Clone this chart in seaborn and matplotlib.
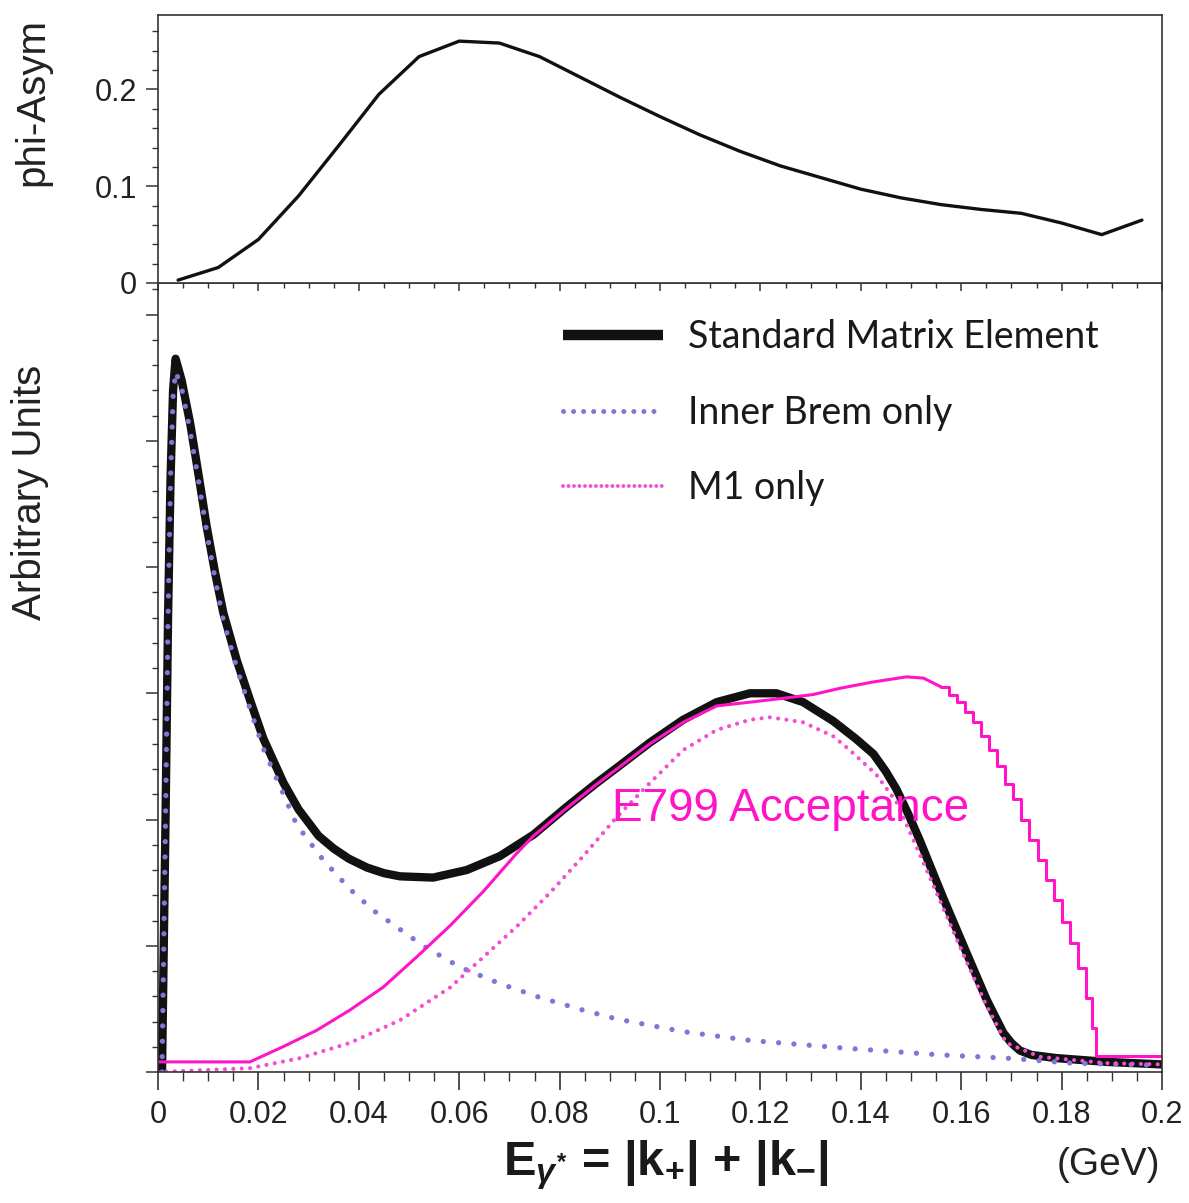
import numpy as np
import pandas as pd
import matplotlib
matplotlib.use("Agg")
import matplotlib.pyplot as plt
from matplotlib.lines import Line2D
from matplotlib.ticker import MultipleLocator
import seaborn as sns

# ---------------- data ----------------
# top panel: phi asymmetry
asym_x = [0.004, 0.012, 0.020, 0.028, 0.036, 0.044, 0.052, 0.060, 0.068, 0.076,
          0.084, 0.092, 0.100, 0.108, 0.116, 0.124, 0.132, 0.140, 0.148, 0.156,
          0.164, 0.172, 0.180, 0.188, 0.196]
asym_y = [0.003, 0.016, 0.045, 0.090, 0.142, 0.195, 0.234, 0.250, 0.248, 0.234,
          0.213, 0.192, 0.172, 0.153, 0.136, 0.121, 0.109, 0.097, 0.088, 0.081,
          0.076, 0.072, 0.062, 0.050, 0.065]

# bottom panel: standard matrix element
std_x = [0.0008, 0.0015, 0.0020, 0.0025, 0.0030, 0.0035, 0.0047, 0.0064, 0.0080, 0.0097,
         0.0114, 0.0130, 0.0157, 0.0183, 0.0210, 0.0250, 0.0280, 0.0320, 0.0350, 0.0380,
         0.0416, 0.0450, 0.0482, 0.0548, 0.0615, 0.0681, 0.0748, 0.0814, 0.0874, 0.0914,
         0.0980, 0.1046, 0.1113, 0.1179, 0.1232, 0.1285, 0.1345, 0.1390, 0.1425, 0.1450,
         0.1471, 0.1495, 0.1518, 0.1564, 0.1611, 0.1651, 0.1684, 0.1700, 0.1717, 0.1740,
         0.1790, 0.1890, 0.2000]
std_y = [0.0, 2.0, 3.6, 4.7, 5.4, 5.65, 5.48, 5.14, 4.75, 4.32,
         3.95, 3.64, 3.26, 2.95, 2.64, 2.29, 2.08, 1.87, 1.77, 1.69,
         1.62, 1.575, 1.55, 1.54, 1.60, 1.71, 1.88, 2.10, 2.29, 2.41,
         2.61, 2.79, 2.93, 3.00, 3.00, 2.93, 2.78, 2.64, 2.52, 2.38,
         2.24, 2.04, 1.83, 1.38, 0.94, 0.57, 0.31, 0.23, 0.17, 0.135,
         0.11, 0.08, 0.06]

# inner bremsstrahlung only
ib_x = [0.0008, 0.0015, 0.0020, 0.0025, 0.0030, 0.0035, 0.0047, 0.0064, 0.0080, 0.0097,
        0.0114, 0.0130, 0.0157, 0.0183, 0.0210, 0.0250, 0.0276, 0.0329, 0.0382, 0.0429,
        0.0475, 0.0528, 0.0602, 0.0681, 0.0761, 0.0847, 0.0914, 0.1046, 0.1179, 0.1365,
        0.1560, 0.1690, 0.1820, 0.1980]
ib_y = [0.0, 2.0, 3.6, 4.7, 5.35, 5.55, 5.42, 5.08, 4.70, 4.28,
        3.90, 3.58, 3.20, 2.88, 2.56, 2.20, 1.96, 1.68, 1.45, 1.28,
        1.15, 1.00, 0.83, 0.70, 0.59, 0.49, 0.42, 0.32, 0.25, 0.19,
        0.135, 0.11, 0.07, 0.055]

# M1 only
m1_x = [0.0, 0.0183, 0.0283, 0.0382, 0.0482, 0.0582, 0.0648, 0.0714, 0.0781, 0.0847,
        0.0914, 0.0980, 0.1046, 0.1113, 0.1179, 0.1219, 0.1285, 0.1345, 0.1378, 0.1430,
        0.1471, 0.1518, 0.1564, 0.1610, 0.1651, 0.1690, 0.1757, 0.1890, 0.2000]
m1_y = [0.0, 0.03, 0.11, 0.23, 0.41, 0.67, 0.91, 1.15, 1.42, 1.71,
        2.02, 2.29, 2.55, 2.71, 2.79, 2.81, 2.77, 2.66, 2.55, 2.36,
        2.14, 1.72, 1.30, 0.88, 0.52, 0.23, 0.12, 0.07, 0.06]

# E799 acceptance (smooth part)
acc_x = [0.0, 0.0183, 0.0249, 0.0316, 0.0382, 0.0448, 0.0515, 0.0582, 0.0648, 0.0714,
         0.0748, 0.0814, 0.0874, 0.0914, 0.0980, 0.1046, 0.1113, 0.1180, 0.1245, 0.1305,
         0.1359, 0.1425, 0.1491, 0.1525, 0.1560]
acc_y = [0.08, 0.08, 0.20, 0.33, 0.49, 0.67, 0.91, 1.16, 1.43, 1.73,
         1.87, 2.09, 2.28, 2.40, 2.60, 2.77, 2.90, 2.93, 2.96, 2.99,
         3.04, 3.09, 3.13, 3.12, 3.05]
# E799 acceptance (binned falling edge)
accs_x = [0.1560, 0.1576, 0.1592, 0.1608, 0.1624, 0.1640, 0.1656, 0.1672, 0.1688, 0.1704,
          0.1720, 0.1736, 0.1752, 0.1768, 0.1784, 0.1800, 0.1816, 0.1832, 0.1848, 0.1860,
          0.1868, 0.2000]
accs_y = [3.05, 2.99, 2.93, 2.85, 2.77, 2.66, 2.55, 2.42, 2.28, 2.16,
          2.00, 1.84, 1.68, 1.52, 1.36, 1.19, 1.02, 0.82, 0.59, 0.35,
          0.13, 0.13]

x_ticks = [0, 0.02, 0.04, 0.06, 0.08, 0.1, 0.12, 0.14, 0.16, 0.18, 0.2]
x_ticklabels = ["0", "0.02", "0.04", "0.06", "0.08", "0.1", "0.12", "0.14", "0.16", "0.18", "0.2"]
asym_ticks = [0, 0.1, 0.2]
asym_ticklabels = ["0", "0.1", "0.2"]
legend_labels = ["Standard Matrix Element", "Inner Brem only", "M1 only"]

# ---------------- style ----------------
sns.set_theme(style="ticks")
plt.rcParams["font.family"] = ["Liberation Sans", "DejaVu Sans"]
plt.rcParams["mathtext.fontset"] = "custom"
plt.rcParams["mathtext.rm"] = "Liberation Sans:bold"
plt.rcParams["mathtext.it"] = "Liberation Sans:italic:bold"
plt.rcParams["mathtext.bf"] = "Liberation Sans:bold"

BLACK = "#111111"
IB_COL = "#7d78d6"
M1_COL = "#f24fd2"
ACC_COL = "#ff14c8"
SPINE = "#333333"

W, H = 1189, 1203
fig = plt.figure(figsize=(W / 100, H / 100), dpi=100)
left = 158 / W
width = (1162 - 158) / W
ax_bot = fig.add_axes([left, 1 - 1072 / H, width, (1072 - 283) / H])
ax_top = fig.add_axes([left, 1 - 283 / H, width, (283 - 15) / H], sharex=ax_bot)

# ---------------- top panel ----------------
sns.lineplot(x=asym_x, y=asym_y, ax=ax_top, color=BLACK, linewidth=2.4,
             sort=False, estimator=None)
ax_top.set_ylim(0, 0.277)
ax_top.set_yticks(asym_ticks)
ax_top.set_yticklabels(asym_ticklabels)
ax_top.yaxis.set_minor_locator(MultipleLocator(0.02))
ax_top.tick_params(axis="y", which="major", direction="out", length=9, width=1.1,
                   labelsize=22, pad=6, colors=SPINE, labelcolor="#222222")
ax_top.tick_params(axis="y", which="minor", direction="out", length=4.5, width=1.0, colors=SPINE)
ax_top.tick_params(axis="x", which="major", direction="out", length=6, width=1.1,
                   labelbottom=False, colors=SPINE)
ax_top.tick_params(axis="x", which="minor", direction="out", length=3.5, width=1.0, colors=SPINE)
ax_top.set_xlabel("")
ax_top.set_ylabel("")

# ---------------- bottom panel ----------------
sns.lineplot(x=std_x, y=std_y, ax=ax_bot, color=BLACK, linewidth=6.0,
             sort=False, estimator=None, solid_joinstyle="round", solid_capstyle="butt")
sns.lineplot(x=ib_x, y=ib_y, ax=ax_bot, color=IB_COL, linewidth=3.8,
             linestyle=(0, (0.01, 2.9)), dash_capstyle="round",
             sort=False, estimator=None)
sns.lineplot(x=m1_x, y=m1_y, ax=ax_bot, color=M1_COL, linewidth=3.0,
             linestyle=(0, (0.01, 2.0)), dash_capstyle="round",
             sort=False, estimator=None)
sns.lineplot(x=acc_x, y=acc_y, ax=ax_bot, color=ACC_COL, linewidth=2.2,
             sort=False, estimator=None)
sns.lineplot(x=accs_x, y=accs_y, ax=ax_bot, color=ACC_COL, linewidth=2.2,
             drawstyle="steps-post", sort=False, estimator=None)

ax_bot.text(0.0904, 2.08, "E799 Acceptance", color=ACC_COL, fontsize=33,
            ha="left", va="center")

ax_bot.set_xlim(0, 0.2)
ax_bot.set_ylim(0, 6.25)
ax_bot.set_xticks(x_ticks)
ax_bot.set_xticklabels(x_ticklabels)
ax_bot.xaxis.set_minor_locator(MultipleLocator(0.005))
ax_bot.yaxis.set_major_locator(MultipleLocator(1))
ax_bot.yaxis.set_minor_locator(MultipleLocator(0.2))
ax_bot.tick_params(axis="x", which="major", direction="out", length=13, width=1.2,
                   labelsize=22, pad=7, colors=SPINE, labelcolor="#222222")
ax_bot.tick_params(axis="x", which="minor", direction="out", length=6.5, width=1.0, colors=SPINE)
ax_bot.tick_params(axis="y", which="major", direction="out", length=9, width=1.1,
                   labelleft=False, colors=SPINE)
ax_bot.tick_params(axis="y", which="minor", direction="out", length=4.5, width=1.0, colors=SPINE)
ax_bot.set_xlabel("")
ax_bot.set_ylabel("")

for ax in (ax_top, ax_bot):
    for s in ax.spines.values():
        s.set_visible(True)
        s.set_linewidth(1.2)
        s.set_color(SPINE)

# legend
handles = [
    Line2D([], [], color=BLACK, linewidth=7.5, solid_capstyle="butt"),
    Line2D([], [], color=IB_COL, linewidth=3.6, linestyle=(0, (0.01, 2.0)), dash_capstyle="round"),
    Line2D([], [], color=M1_COL, linewidth=2.8, linestyle=(0, (0.01, 1.4)), dash_capstyle="round"),
]
leg = ax_bot.legend(handles, legend_labels, loc="upper left",
                    bbox_to_anchor=((555 - 158) / 1004, (1072 - 312) / 789),
                    frameon=False, prop={"family": "Lato", "size": 27, "weight": "normal"},
                    handlelength=2.67, handletextpad=0.69, labelspacing=1.05,
                    borderpad=0.2, borderaxespad=0)
for t in leg.get_texts():
    t.set_color("#1a1a1a")

# axis labels
fig.text(32 / W, 1 - 102 / H, "phi-Asym", rotation=90, ha="center", va="center",
         fontsize=29, color="#222222")
fig.text(30 / W, 1 - 492 / H, "Arbitrary Units", rotation=90, ha="center", va="center",
         fontsize=29, color="#222222")
fig.text(666 / W, 1 - 1165 / H, r"E$_{\gamma^{*}}$ = |k$_{+}$| + |k$_{-}$|",
         ha="center", va="center", fontsize=35, fontweight="bold", color="#1a1a1a")
fig.text(1160 / W, 1 - 1165 / H, "(GeV)", ha="right", va="center",
         fontsize=28, color="#222222")

fig.savefig("out.png", dpi=100)
